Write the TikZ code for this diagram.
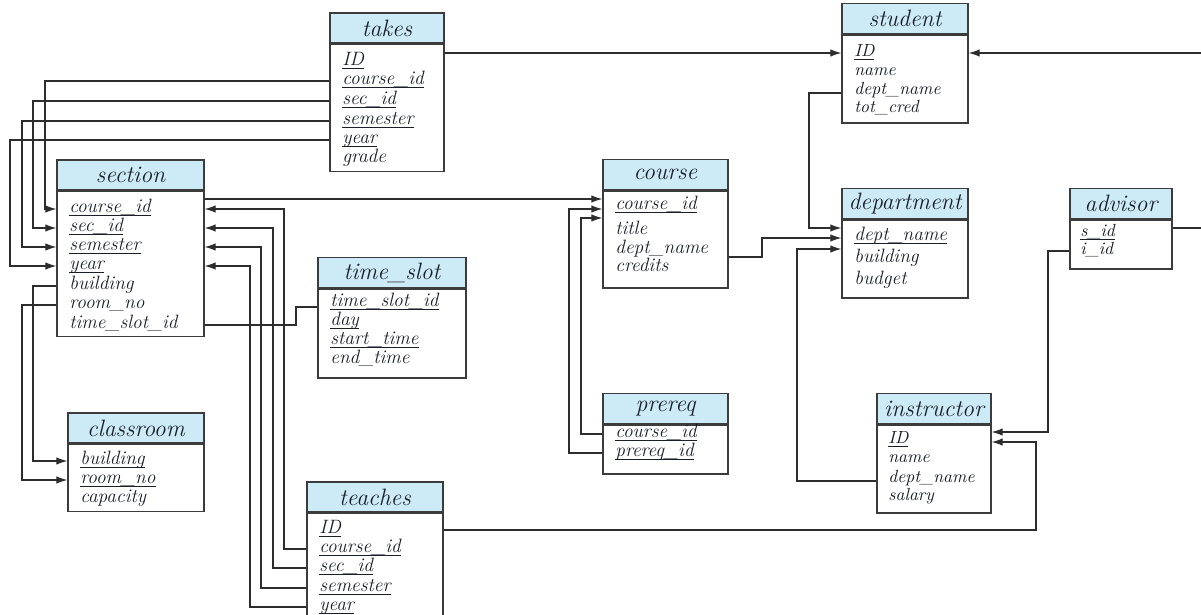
\documentclass[tikz,border=0pt]{standalone}
\usepackage{fontspec}
\usetikzlibrary{positioning,calc,arrows.meta}

\definecolor{kopfblau}{RGB}{204,235,247}
\definecolor{rahmen}{RGB}{60,60,60}
\definecolor{linienfarbe}{RGB}{45,45,45}
\definecolor{schrift}{RGB}{25,30,40}

% Schluesselattribut: Unterstrich dicht an der Grundlinie
\newcommand{\pk}[1]{\underline{\smash{#1}}}

\begin{document}
\begin{tikzpicture}[x=0.02cm, y=-0.02cm, >={Latex[length=2.2mm,width=1.5mm]},
  kopf/.style={draw=rahmen, fill=kopfblau, line width=0.8pt, minimum height=0.6cm,
    inner sep=0pt, text=schrift, font=\fontsize{13.5pt}{15pt}\selectfont\itshape},
  rumpf/.style={draw=rahmen, fill=white, line width=0.8pt, inner sep=0pt},
  zeile/.style={anchor=west, inner sep=0pt, text height=7pt, text depth=3pt,
    text=schrift, font=\fontsize{11pt}{13pt}\selectfont\itshape},
  klein/.style={font=\fontsize{10pt}{12pt}\selectfont\itshape},
  verb/.style={draw=linienfarbe, line width=0.6pt}]

  \useasboundingbox (0,0) rectangle (1201,615);

  % Tabelle takes
  \node[kopf, minimum width=2.28cm] (takes-h) at (387,28) {takes};
  \node[rumpf, minimum width=2.28cm, minimum height=2.54cm, below=0pt of takes-h] (takes) {};
  \foreach \n/\y/\w in {id/62/\pk{ID}, cid/81/\pk{course\_id},
      sid/101/\pk{sec\_id}, sem/121/\pk{semester},
      yr/140/\pk{year}, gr/159/grade}
    \node[zeile] (takes-\n) at (342,\y) {\w};

  % Tabelle section
  \node[kopf, minimum width=2.94cm] (section-h) at (130.5,175) {section};
  \node[rumpf, minimum width=2.94cm, minimum height=2.9cm, below=0pt of section-h] (section) {};
  \foreach \n/\y/\w in {cid/209/\pk{course\_id}, sid/228/\pk{sec\_id},
      sem/247/\pk{semester}, yr/266/\pk{year}, bld/286/building,
      room/305/room\_no, ts/325/time\_slot\_id}
    \node[zeile] (section-\n) at (69,\y) {\w};

  % Tabelle time_slot
  \node[kopf, minimum width=2.96cm] (slot-h) at (392,272.5) {time\_slot};
  \node[rumpf, minimum width=2.96cm, minimum height=1.78cm, below=0pt of slot-h] (slot) {};
  \foreach \n/\y/\w in {id/303/\pk{time\_slot\_id}, day/322/\pk{day},
      st/341/\pk{start\_time}, et/360/end\_time}
    \node[zeile] (slot-\n) at (330,\y) {\w};

  % Tabelle classroom
  \node[kopf, minimum width=2.72cm] (classroom-h) at (136,428) {classroom};
  \node[rumpf, minimum width=2.72cm, minimum height=1.34cm, below=0pt of classroom-h] (classroom) {};
  \foreach \n/\y/\w in {bld/461/\pk{building}, room/480/\pk{room\_no},
      cap/499/capacity}
    \node[zeile] (classroom-\n) at (80,\y) {\w};

  % Tabelle teaches (unten abgeschnitten)
  \node[kopf, minimum width=2.72cm] (teaches-h) at (375,497) {teaches};
  \node[rumpf, minimum width=2.72cm, minimum height=2.36cm, below=0pt of teaches-h] (teaches) {};
  \foreach \n/\y/\w in {id/530/\pk{ID}, cid/549/\pk{course\_id},
      sid/568/\pk{sec\_id}, sem/588/\pk{semester}, yr/607/\pk{year}}
    \node[zeile] (teaches-\n) at (319,\y) {\w};

  % Tabelle course
  \node[kopf, minimum width=2.5cm] (course-h) at (665.5,174.5) {course};
  \node[rumpf, minimum width=2.5cm, minimum height=1.94cm, below=0pt of course-h] (course) {};
  \foreach \n/\y/\w in {cid/206/\pk{course\_id}, title/231/title,
      dn/250/dept\_name, cr/268/credits}
    \node[zeile] (course-\n) at (615,\y) {\w};

  % Tabelle prereq
  \node[kopf, minimum width=2.5cm] (prereq-h) at (665.5,408.5) {prereq};
  \node[rumpf, minimum width=2.5cm, minimum height=0.98cm, below=0pt of prereq-h] (prereq) {};
  \foreach \n/\y/\w in {cid/434/\pk{course\_id}, pid/453/\pk{prereq\_id}}
    \node[zeile] (prereq-\n) at (615,\y) {\w};

  % Tabelle student
  \node[kopf, minimum width=2.52cm] (student-h) at (905,18.5) {student};
  \node[rumpf, minimum width=2.52cm, minimum height=1.76cm, below=0pt of student-h] (student) {};
  \foreach \n/\y/\w in {id/53/\pk{ID}, name/72/name, dn/91/dept\_name, tc/109/tot\_cred}
    \node[zeile, klein] (student-\n) at (854,\y) {\w};

  % Tabelle department
  \node[kopf, minimum width=2.52cm] (dept-h) at (905,203.5) {department};
  \node[rumpf, minimum width=2.52cm, minimum height=1.56cm, below=0pt of dept-h] (dept) {};
  \foreach \n/\y/\w in {dn/237/\pk{dept\_name}, bld/259/building, bud/281/budget}
    \node[zeile] (dept-\n) at (854,\y) {\w};

  % Tabelle advisor
  \node[kopf, minimum width=2.04cm] (advisor-h) at (1121,203.5) {advisor};
  \node[rumpf, minimum width=2.04cm, minimum height=0.98cm, below=0pt of advisor-h] (advisor) {};
  \foreach \n/\y/\w in {sid/233/\pk{s\_id}, iid/251/i\_id}
    \node[zeile, klein] (advisor-\n) at (1080,\y) {\w};

  % Tabelle instructor
  \node[kopf, minimum width=2.28cm] (instr-h) at (934,408.5) {instructor};
  \node[rumpf, minimum width=2.28cm, minimum height=1.76cm, below=0pt of instr-h] (instr) {};
  \foreach \n/\y/\w in {id/440/\pk{ID}, name/459/name, dn/479/dept\_name, sal/497/salary}
    \node[zeile, klein] (instr-\n) at (888,\y) {\w};

  % takes -> section (Spuren links)
  \foreach \r/\x in {cid/45, sid/33, sem/22, yr/10} {
    \coordinate (links-\r) at (\x,0);
    \draw[verb,->] (takes.west |- takes-\r) -| (links-\r |- section-\r) -- (section.west |- section-\r);
  }

  % teaches -> section (Spuren rechts)
  \foreach \r/\x in {cid/284, sid/273, sem/261, yr/250} {
    \coordinate (rechts-\r) at (\x,0);
    \draw[verb,->] (teaches.west |- teaches-\r) -| (rechts-\r |- section-\r) -- (section.east |- section-\r);
  }

  % section -> classroom
  \coordinate (links-geb) at (33,0);
  \coordinate (links-raum) at (22,0);
  \draw[verb,->] (section.west |- section-bld) -| (links-geb |- classroom-bld) -- (classroom.west |- classroom-bld);
  \draw[verb,->] (section.west |- section-room) -| (links-raum |- classroom-room) -- (classroom.west |- classroom-room);

  % section -> time_slot (ohne Pfeil)
  \coordinate (slot-knick) at (296,0);
  \draw[verb] (section.east |- section-ts) -| ($(slot-knick |- slot-id)+(0,4)$) -- ($(slot.west |- slot-id)+(0,4)$);

  % section -> course
  \draw[verb,->] ($(section.east |- section-cid)+(0,-10)$) -- ($(course.west |- course-cid)+(0,-7)$);

  % prereq -> course
  \coordinate (kurs-a) at (581,0);
  \coordinate (kurs-b) at (569,0);
  \draw[verb,->] (prereq.west |- prereq-cid) -| ($(kurs-a |- course-cid)+(0,12)$) -- ($(course.west |- course-cid)+(0,12)$);
  \draw[verb,->] (prereq.west |- prereq-pid) -| ($(kurs-b |- course-cid)+(0,3)$) -- ($(course.west |- course-cid)+(0,3)$);

  % takes -> student
  \draw[verb,->] (takes.east |- student-id) -- (student.west |- student-id);

  % alles -> department
  \coordinate (abt-a) at (762,0);
  \coordinate (abt-b) at (809,0);
  \coordinate (abt-c) at (797,0);
  \draw[verb,->] ($(course.east |- course-dn)+(0,7)$) -| ($(abt-a |- dept-dn)+(0,1)$) -- ($(dept.west |- dept-dn)+(0,1)$);
  \draw[verb,->] ($(student.west |- student-dn)+(0,2)$) -| ($(abt-b |- dept-dn)+(0,-9)$) -- ($(dept.west |- dept-dn)+(0,-9)$);
  \draw[verb,->] ($(instr.west |- instr-dn)+(0,2)$) -| ($(abt-c |- dept-dn)+(0,12)$) -- ($(dept.west |- dept-dn)+(0,12)$);

  % advisor / teaches -> instructor
  \coordinate (inst-a) at (1048,0);
  \coordinate (inst-b) at (1036,0);
  \draw[verb,->] (advisor.west |- advisor-iid) -| ($(inst-a |- instr-id)+(0,-8)$) -- ($(instr.east |- instr-id)+(0,-8)$);
  \draw[verb,->] (teaches.east |- teaches-id) -| ($(inst-b |- instr-id)+(0,2)$) -- ($(instr.east |- instr-id)+(0,2)$);

  % advisor -> student (ueber den rechten Rand)
  \coordinate (rand) at (1215,0);
  \draw[verb,->] ($(advisor.east |- advisor-sid)+(0,-5)$) -| (rand |- student-id) -- (student.east |- student-id);

\end{tikzpicture}
\end{document}
